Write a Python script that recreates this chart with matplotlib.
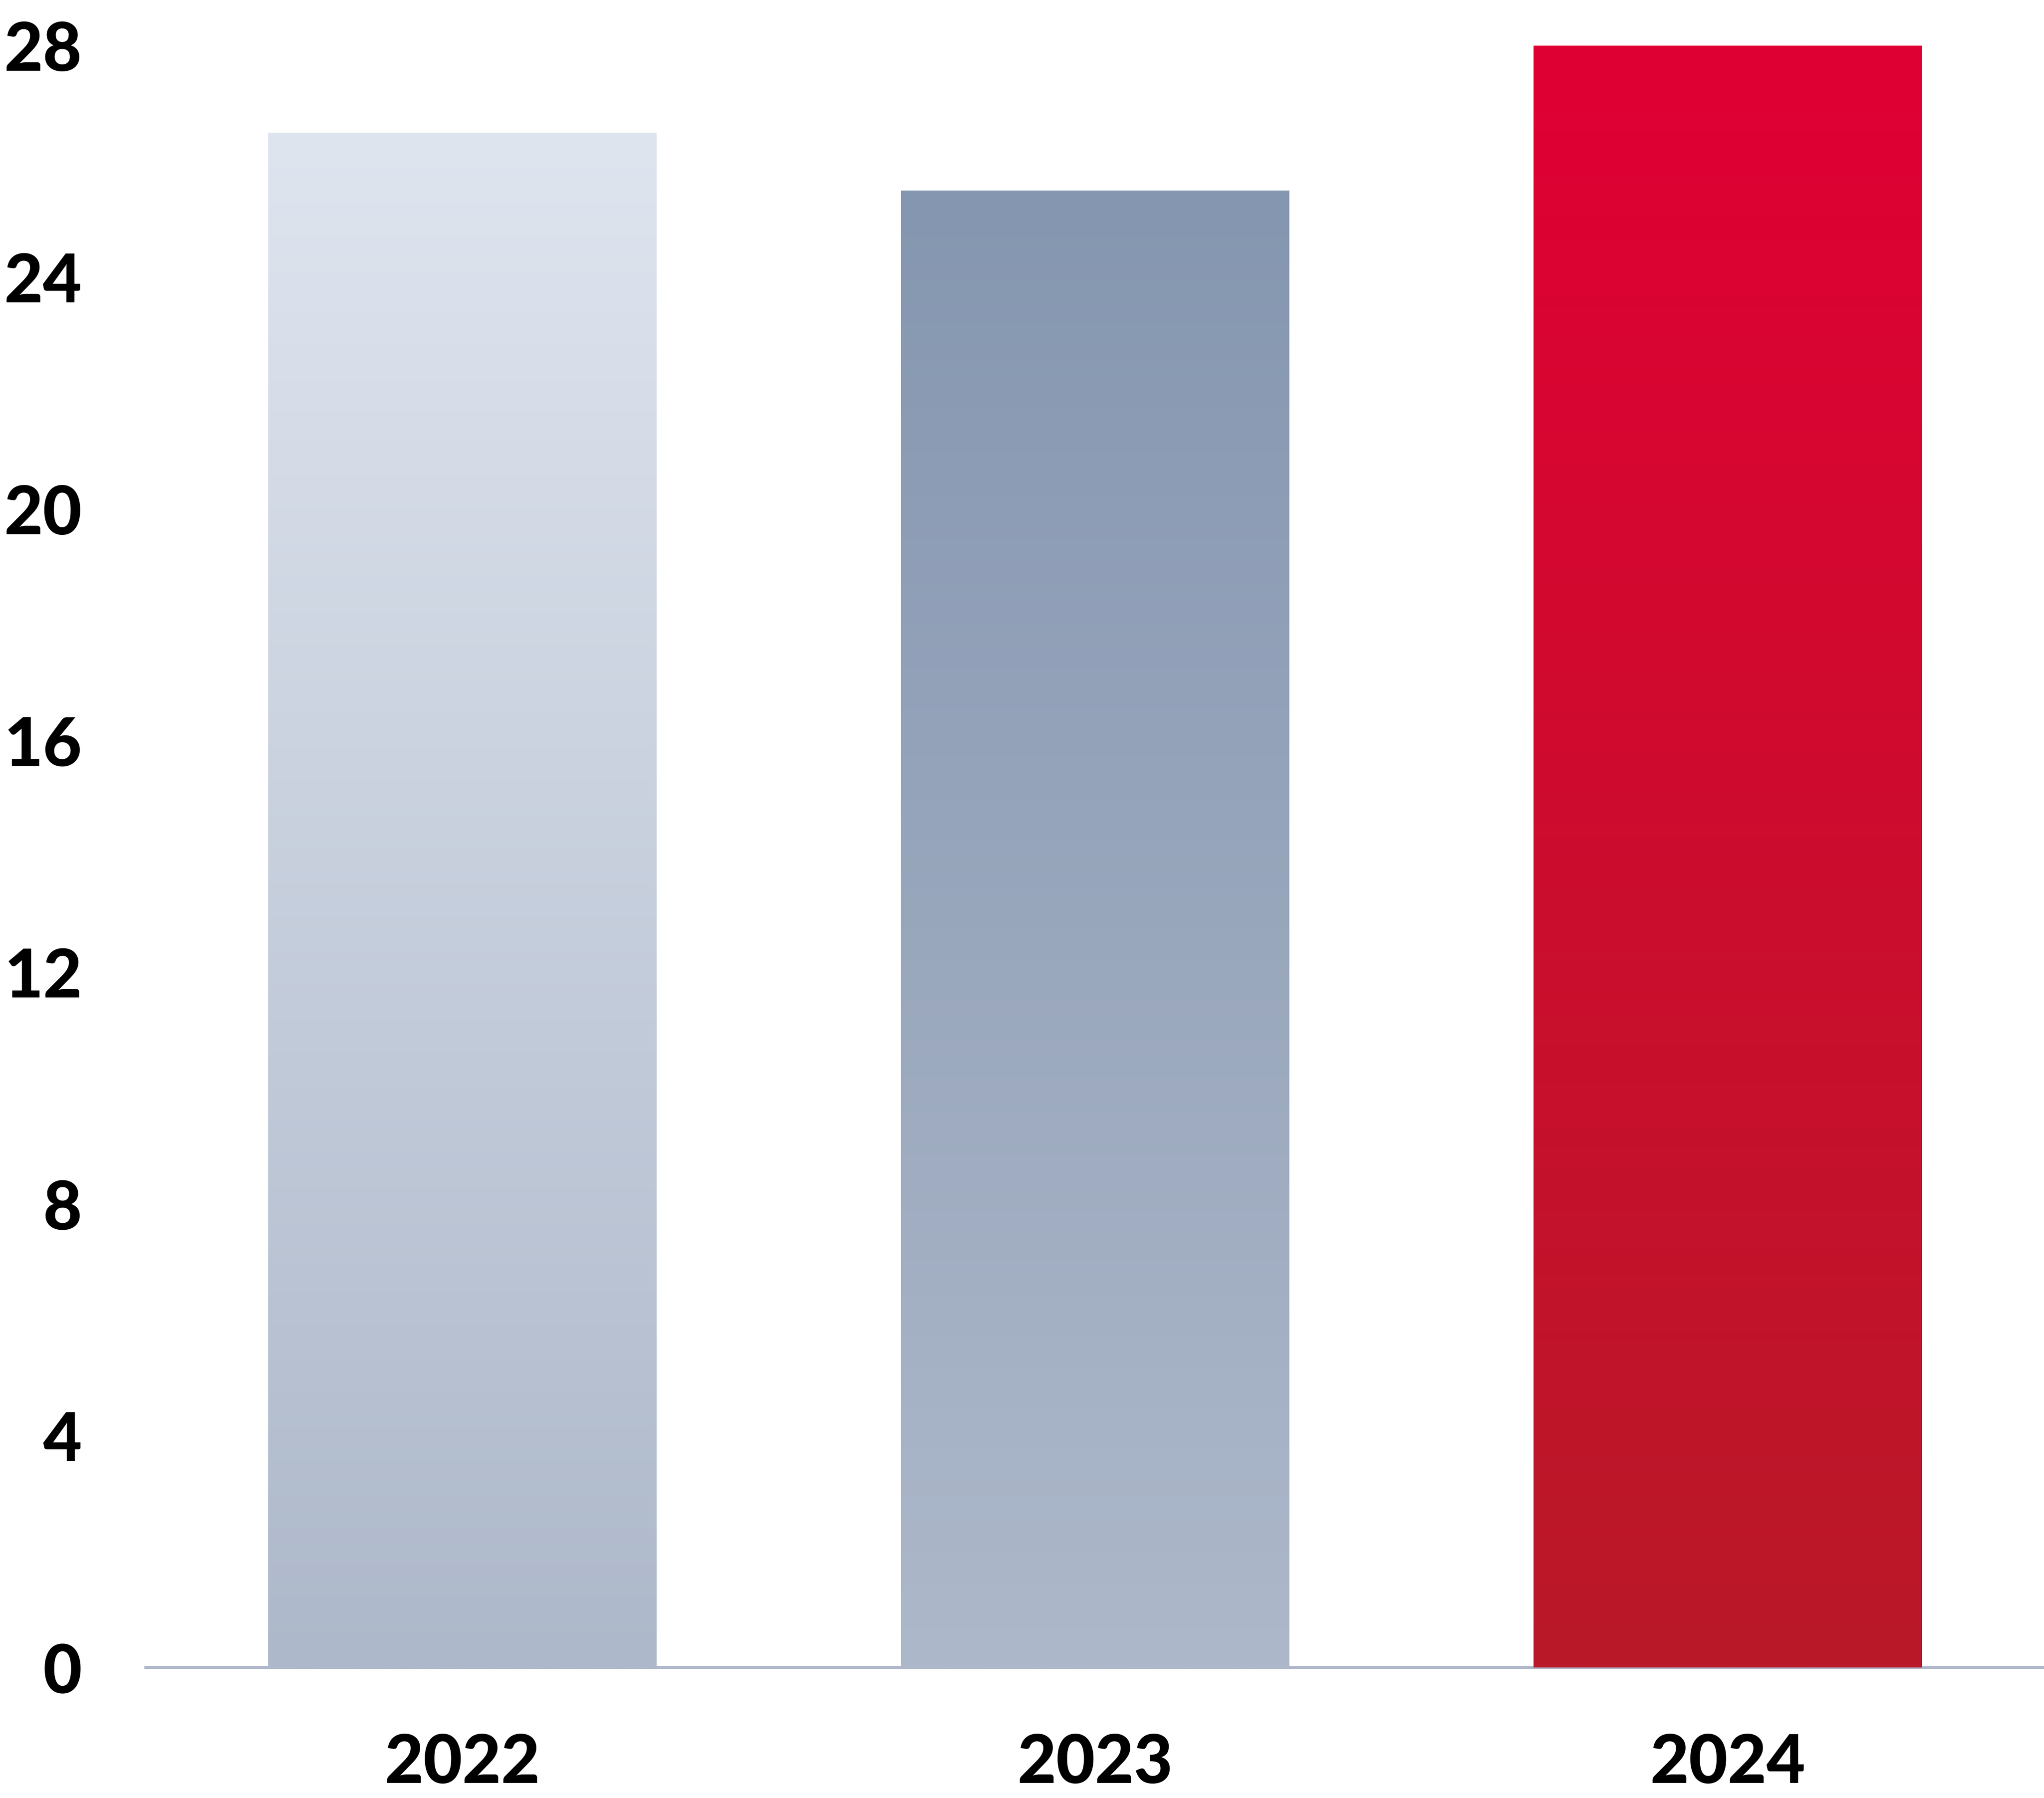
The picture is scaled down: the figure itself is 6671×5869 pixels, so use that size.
import numpy as np
import matplotlib
matplotlib.use("Agg")
from matplotlib import pyplot as plt
from matplotlib.colors import to_rgb

years = ['2022', '2023', '2024']
values = [26.5, 25.5, 28.0]
yticks = [0, 4, 8, 12, 16, 20, 24, 28]

# top / bottom colours of each bar gradient
top_colors = ['#dfe5ef', '#8596b0', '#e00034']
bottom_colors = ['#adb8ca', '#adb8ca', '#b91928']

plt.rcParams['font.family'] = ['Lato', 'DejaVu Sans']

# geometry is defined at 100 dpi; saved a bit lower so the png stays under 40 Mpx
fig = plt.figure(figsize=(76.68, 67.46), dpi=100)
ax = fig.add_axes([0.0714, 0.0725, 0.9286, 0.9021])

x = np.arange(len(years))
bars = ax.bar(x, values, width=0.614, color='none', edgecolor='none', zorder=2)

# fill each bar with a vertical gradient, clipped to the bar
for bar, c_top, c_bot in zip(bars, top_colors, bottom_colors):
    t = np.linspace(0, 1, 256)[:, None]
    grad = (1 - t) * np.array(to_rgb(c_top)) + t * np.array(to_rgb(c_bot))
    grad = grad[:, None, :]
    x0, y0 = bar.get_x(), bar.get_y()
    im = ax.imshow(grad, extent=[x0, x0 + bar.get_width(), y0, y0 + bar.get_height()],
                   aspect='auto', origin='upper', zorder=2, interpolation='bilinear')
    im.set_clip_path(bar)

ax.set_xlim(-0.5, 2.5)
ax.set_ylim(0, 28)
ax.set_xticks(x)
ax.set_xticklabels(years)
ax.set_yticks(yticks)
ax.set_yticklabels([str(v) for v in yticks])

for side in ['top', 'right', 'left']:
    ax.spines[side].set_visible(False)
ax.spines['bottom'].set_color('#b0b8cc')
ax.spines['bottom'].set_linewidth(8)
ax.spines['bottom'].set_zorder(1)

ax.tick_params(axis='both', length=0, labelsize=181, colors='black')
ax.tick_params(axis='y', pad=173)
ax.tick_params(axis='x', pad=176)
for lbl in ax.get_xticklabels() + ax.get_yticklabels():
    lbl.set_fontweight('black')

fig.savefig('out.png', dpi=87, facecolor='white')
